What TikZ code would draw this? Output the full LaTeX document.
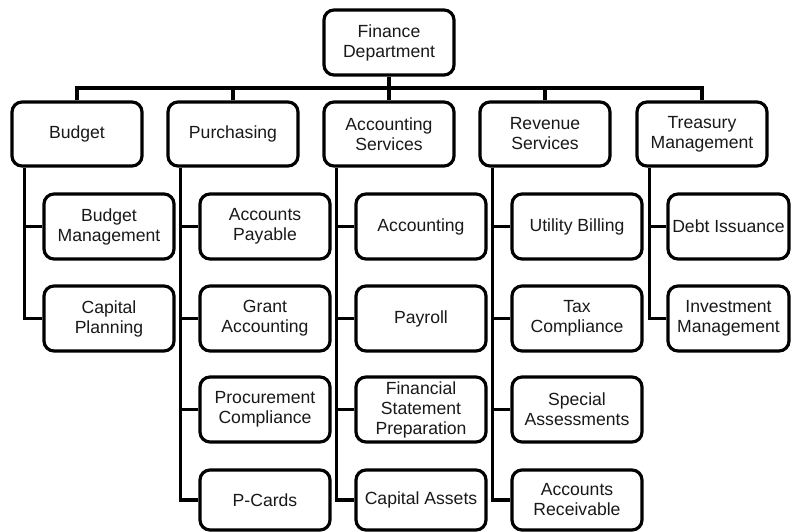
\documentclass[tikz,border=0pt]{standalone}
\usepackage{fontspec}
\setmainfont{Liberation Sans}
\begin{document}
\begin{tikzpicture}[x=1pt,y=-1pt,
  box/.style={draw=black,line width=3.2pt,rounded corners=10pt,fill=white,
    align=center,minimum width=130pt,minimum height=65pt,inner sep=0pt,
    font=\fontsize{17.6}{20}\selectfont,text=black!90},
  link/.style={draw=black,line width=3.2pt}]
\useasboundingbox (0,0) rectangle (791,531);
% root
\node[box] (root) at (389,42.5) {Finance\\Department};
% top row
\node[box,minimum height=64pt] (bud) at (77,134) {Budget};
\node[box,minimum height=64pt] (pur) at (233,134) {Purchasing};
\node[box,minimum height=64pt] (acc) at (389,134) {Accounting\\Services};
\node[box,minimum height=64pt] (rev) at (545,134) {Revenue\\Services};
\node[box,minimum height=64pt] (tre) at (702,134) {Treasury\\Management};
% children
\node[box] (b1) at (109,226.5) {Budget\\Management};
\node[box] (b2) at (109,318.5) {Capital\\Planning};
\node[box] (p1) at (265,226.5) {Accounts\\Payable};
\node[box] (p2) at (265,318.5) {Grant\\Accounting};
\node[box] (p3) at (265,409.5) {Procurement\\Compliance};
\node[box,minimum height=60pt] (p4) at (265,500) {P-Cards};
\node[box] (a1) at (421,226.5) {Accounting};
\node[box] (a2) at (421,318.5) {Payroll};
\node[box] (a3) at (421,409.5) {Financial\\Statement\\Preparation};
\node[box,minimum height=60pt] (a4) at (421,500) {Capital Assets};
\node[box] (r1) at (577,226.5) {Utility Billing};
\node[box] (r2) at (577,318.5) {Tax\\Compliance};
\node[box] (r3) at (577,409.5) {Special\\Assessments};
\node[box,minimum height=60pt] (r4) at (577,500) {Accounts\\Receivable};
\node[box,minimum width=121pt] (t1) at (728.5,226.5) {Debt Issuance};
\node[box,minimum width=121pt] (t2) at (728.5,318.5) {Investment\\Management};
% bus
\coordinate (bus) at (389,88);
\draw[link] (root.south) -- (acc.north);
\draw[link] (bud.north) |- (bus) -| (tre.north);
\draw[link] (pur.north) -- (pur.north |- bus);
\draw[link] (rev.north) -- (rev.north |- bus);
% child connectors
\foreach \p/\c in {bud/b1,bud/b2,pur/p1,pur/p2,pur/p3,pur/p4,acc/a1,acc/a2,acc/a3,acc/a4,rev/r1,rev/r2,rev/r3,rev/r4,tre/t1,tre/t2}
  \draw[link] ([xshift=14pt]\p.south west) |- (\c.west);
\end{tikzpicture}
\end{document}
